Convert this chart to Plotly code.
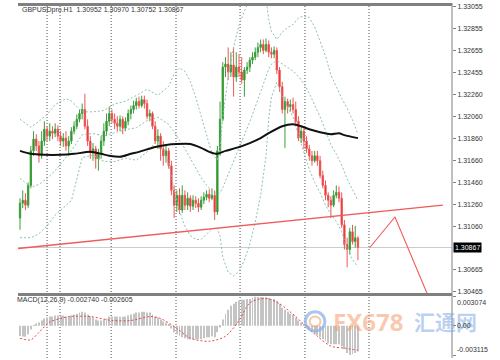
import plotly.graph_objects as go

# ---------------- data ----------------
bar_index = list(range(126))
open_ = [1.31136,1.31270,1.31297,1.31252,1.31432,1.31746,1.31853,1.31791,1.31701,1.31835,
         1.31943,1.31880,1.31925,1.31907,1.31943,1.31880,1.31835,1.31862,1.31791,1.31835,
         1.31925,1.31970,1.32033,1.32086,1.32122,1.31970,1.31835,1.31728,1.31764,1.31674,
         1.31728,1.31835,1.31925,1.32015,1.32086,1.32033,1.31997,1.31970,1.32033,1.31952,
         1.32015,1.32086,1.32122,1.32158,1.32194,1.32158,1.32212,1.32176,1.32060,1.32086,
         1.31970,1.31835,1.31880,1.31764,1.31701,1.31746,1.31611,1.31387,1.31252,1.31342,
         1.31208,1.31342,1.31252,1.31315,1.31243,1.31297,1.31270,1.31234,1.31297,1.31324,
         1.31351,1.31315,1.31342,1.31190,1.31746,1.32033,1.32508,1.32535,1.32463,1.32526,
         1.32418,1.32508,1.32463,1.32391,1.32481,1.32508,1.32571,1.32598,1.32643,1.32687,
         1.32714,1.32660,1.32714,1.32643,1.32625,1.32660,1.32481,1.32329,1.32122,1.32194,
         1.32149,1.32167,1.32122,1.32015,1.31862,1.31925,1.31835,1.31764,1.31701,1.31656,
         1.31701,1.31656,1.31521,1.31432,1.31342,1.31297,1.31252,1.31342,1.31369,1.31315,
         1.31073,1.30894,1.30849,1.31010,1.30921,1.30952]
high = [1.31315,1.31387,1.31360,1.31459,1.31791,1.31925,1.31898,1.31835,1.31925,1.32015,
        1.31970,1.31997,1.31970,1.31997,1.31979,1.31925,1.31907,1.31925,1.31880,1.31961,
        1.32015,1.32077,1.32122,1.32176,1.32266,1.32033,1.31880,1.31817,1.31791,1.31764,
        1.31880,1.31997,1.32086,1.32149,1.32122,1.32086,1.32060,1.32068,1.32060,1.32051,
        1.32122,1.32158,1.32203,1.32230,1.32239,1.32248,1.32248,1.32212,1.32122,1.32104,
        1.32015,1.31943,1.31907,1.31835,1.31791,1.31773,1.31656,1.31432,1.31387,1.31405,
        1.31432,1.31387,1.31369,1.31342,1.31342,1.31333,1.31315,1.31333,1.31369,1.31387,
        1.31396,1.31405,1.31387,1.31791,1.32194,1.32553,1.32598,1.32687,1.32643,1.32687,
        1.32643,1.32625,1.32598,1.32508,1.32553,1.32598,1.32643,1.32687,1.32732,1.32759,
        1.32759,1.32768,1.32750,1.32687,1.32696,1.32687,1.32508,1.32374,1.32239,1.32221,
        1.32212,1.32230,1.32194,1.32060,1.31970,1.31952,1.31880,1.31800,1.31746,1.31746,
        1.31746,1.31701,1.31566,1.31477,1.31369,1.31333,1.31387,1.31432,1.31423,1.31369,
        1.31118,1.30956,1.31046,1.31073,1.31064,1.30970]
low = [1.31028,1.31225,1.31208,1.31225,1.31405,1.31701,1.31746,1.31638,1.31674,1.31791,
       1.31835,1.31835,1.31853,1.31871,1.31835,1.31791,1.31782,1.31746,1.31701,1.31808,
       1.31898,1.31943,1.32006,1.32033,1.31943,1.31791,1.31674,1.31656,1.31584,1.31566,
       1.31674,1.31791,1.31880,1.31970,1.31997,1.31943,1.31925,1.31925,1.31898,1.31925,
       1.31979,1.32033,1.32086,1.32122,1.32131,1.32140,1.32131,1.32033,1.32015,1.31943,
       1.31808,1.31764,1.31656,1.31611,1.31638,1.31584,1.31342,1.31136,1.31190,1.31172,
       1.31181,1.31208,1.31208,1.31190,1.31208,1.31225,1.31190,1.31208,1.31261,1.31297,
       1.31279,1.31297,1.31118,1.31163,1.31701,1.32015,1.32418,1.32391,1.32418,1.32239,
       1.32374,1.32418,1.32356,1.32239,1.32445,1.32463,1.32535,1.32571,1.32598,1.32643,
       1.32625,1.32643,1.32598,1.32589,1.32589,1.32445,1.32284,1.32086,1.31773,1.32086,
       1.32104,1.32086,1.31970,1.31835,1.31817,1.31764,1.31728,1.31656,1.31611,1.31638,
       1.31611,1.31495,1.31405,1.31297,1.31234,1.31136,1.31234,1.31315,1.31279,1.31046,
       1.30849,1.30687,1.30804,1.30894,1.30867,1.30752]
close = [1.31270,1.31297,1.31252,1.31432,1.31746,1.31853,1.31791,1.31701,1.31835,1.31943,
         1.31880,1.31925,1.31907,1.31943,1.31880,1.31835,1.31862,1.31791,1.31835,1.31925,
         1.31970,1.32033,1.32086,1.32122,1.31970,1.31835,1.31728,1.31764,1.31674,1.31728,
         1.31835,1.31925,1.32015,1.32086,1.32033,1.31997,1.31970,1.32033,1.31952,1.32015,
         1.32086,1.32122,1.32158,1.32194,1.32158,1.32212,1.32176,1.32060,1.32086,1.31970,
         1.31835,1.31880,1.31764,1.31701,1.31746,1.31611,1.31387,1.31252,1.31342,1.31208,
         1.31342,1.31252,1.31315,1.31243,1.31297,1.31270,1.31234,1.31297,1.31324,1.31351,
         1.31315,1.31342,1.31190,1.31746,1.32033,1.32508,1.32535,1.32463,1.32526,1.32418,
         1.32508,1.32463,1.32391,1.32481,1.32508,1.32571,1.32598,1.32643,1.32687,1.32714,
         1.32660,1.32714,1.32643,1.32625,1.32660,1.32481,1.32329,1.32122,1.32194,1.32149,
         1.32167,1.32122,1.32015,1.31862,1.31925,1.31835,1.31764,1.31701,1.31656,1.31701,
         1.31656,1.31521,1.31432,1.31342,1.31297,1.31252,1.31342,1.31369,1.31315,1.31073,
         1.30894,1.30849,1.31010,1.30921,1.30956,1.30867]

bb_index = [0,4,7,10,13,17,19,23,27,31,35,39,43,47,51,55,57,59,61,63,65,67,69,71,73,74,75,
            77,79,81,83,85,87,89,91,92,93,95,97,99,101,103,105,107,109,111,113,115,117,119,121,123,125]
bb_upper = [1.32033,1.31961,1.32015,1.32077,1.32167,1.32221,1.32199,1.32101,1.32101,1.32113,1.32173,
            1.32197,1.32250,1.32306,1.32251,1.32332,1.32447,1.32500,1.32469,1.32378,1.32233,1.32063,
            1.31876,1.31721,1.31665,1.31765,1.32043,1.32418,1.32690,1.32888,1.33017,1.33122,1.33195,
            1.33224,1.33136,1.32941,1.32832,1.32760,1.32826,1.32868,1.32895,1.32956,1.32973,1.32959,
            1.32873,1.32747,1.32611,1.32435,1.32327,1.32224,1.32134,1.32027,1.31899]
bb_middle = [1.31495,1.31414,1.31441,1.31495,1.31566,1.31692,1.31746,1.31893,1.31904,1.31882,1.31911,
             1.31939,1.31956,1.32021,1.32052,1.31986,1.31918,1.31847,1.31766,1.31677,1.31587,1.31502,
             1.31433,1.31380,1.31353,1.31367,1.31412,1.31530,1.31650,1.31769,1.31885,1.32010,1.32146,
             1.32282,1.32417,1.32490,1.32534,1.32565,1.32537,1.32507,1.32473,1.32423,1.32357,1.32269,
             1.32166,1.32056,1.31931,1.31802,1.31715,1.31617,1.31490,1.31392,1.31296]
bb_lower = [1.30956,1.30956,1.30992,1.31064,1.31163,1.31252,1.31292,1.31685,1.31706,1.31651,1.31649,
            1.31680,1.31661,1.31736,1.31852,1.31640,1.31389,1.31194,1.31063,1.30975,1.30941,1.30940,
            1.30990,1.31039,1.31041,1.30969,1.30781,1.30643,1.30609,1.30650,1.30753,1.30898,1.31096,
            1.31340,1.31701,1.32040,1.32236,1.32369,1.32248,1.32147,1.32052,1.31890,1.31742,1.31578,
            1.31460,1.31365,1.31252,1.31169,1.31104,1.31011,1.30846,1.30757,1.30694]

ma_index = [0,4,9,15,20,26,30,33,37,41,44,50,54,58,63,67,70,73,76,80,85,89,92,97,101,104,107,111,115,118,120,125]
ma_values = [1.31746,1.31719,1.31710,1.31710,1.31719,1.31737,1.31719,1.31701,1.31692,1.31719,1.31737,
             1.31782,1.31800,1.31808,1.31808,1.31773,1.31737,1.31719,1.31746,1.31773,1.31817,1.31862,
             1.31907,1.31970,1.31988,1.31970,1.31943,1.31916,1.31898,1.31907,1.31889,1.31862]

trend_index = [-0.7, 156.4]
trend_values = [1.30858, 1.31252]
forecast_index = [129.4, 138.7, 151.0]
forecast_values = [1.30867, 1.31145, 1.30425]
separator_index = [10, 14.8, 33.7, 57.7, 81.4, 105.4, 129.1]

price_ticks = [1.33055,1.32855,1.32655,1.32455,1.32260,1.32060,1.31860,1.31660,1.31460,1.31260,1.31060,1.30665,1.30465]
price_labels = ["1.33055","1.32855","1.32655","1.32455","1.32260","1.32060","1.31860","1.31660","1.31460","1.31260","1.31060","1.30665","1.30465"]
last_price = 1.30867
header_text = "GBPUSDpro.H1  1.30952 1.30970 1.30752 1.30867"

macd_hist = [-0.00110,-0.00115,-0.00118,-0.00091,-0.00039,0.00003,0.00024,0.00035,0.00056,0.00077,
             0.00087,0.00098,0.00098,0.00108,0.00108,0.00108,0.00108,0.00098,0.00098,0.00108,
             0.00119,0.00129,0.00140,0.00150,0.00140,0.00119,0.00098,0.00087,0.00066,0.00056,
             0.00056,0.00066,0.00077,0.00098,0.00098,0.00098,0.00096,0.00097,0.00095,0.00098,
             0.00108,0.00119,0.00129,0.00140,0.00140,0.00150,0.00150,0.00140,0.00140,0.00119,
             0.00098,0.00087,0.00066,0.00045,0.00035,0.00014,-0.00028,-0.00070,-0.00091,-0.00112,
             -0.00123,-0.00133,-0.00144,-0.00144,-0.00144,-0.00144,-0.00144,-0.00144,-0.00133,-0.00123,
             -0.00123,-0.00112,-0.00123,-0.00070,-0.00018,0.00066,0.00129,0.00171,0.00213,0.00234,
             0.00255,0.00265,0.00276,0.00276,0.00286,0.00286,0.00297,0.003074,0.00305,0.00306,
             0.00304,0.00302,0.00297,0.00286,0.00285,0.00265,0.00234,0.00192,0.00171,0.00150,
             0.00129,0.00119,0.00087,0.00056,0.00035,0.00014,-0.00018,-0.00039,-0.00070,-0.00081,
             -0.00102,-0.00123,-0.00144,-0.00165,-0.00186,-0.00196,-0.00196,-0.00196,-0.00196,-0.00217,
             -0.00249,-0.00291,-0.003115,-0.00301,-0.00291,-0.002740]
signal_index = [0,4,7,11,15,18,26,34,41,48,52,58,63,70,76,81,85,89,92,96,102,105,110,115,120,125]
signal_values = [-0.00133,-0.00150,-0.00070,0.00040,0.00077,0.00098,0.00098,0.00056,0.00056,0.00098,
                 0.00077,-0.00028,-0.00133,-0.00165,-0.00112,0.00056,0.00244,0.00286,0.00286,0.00234,
                 0.00098,0.00014,-0.00112,-0.00217,-0.00238,-0.002605]
macd_ticks = [0.003074, 0.0, -0.003115]
macd_labels = ["0.003074", "0.00", "-0.003115"]
macd_text = "MACD(12,26,9) -0.002740 -0.002605"

# ---------------- figure ----------------
BB_COLOR = "#8cc2ab"
RED = "#f05a5a"
fig = go.Figure()

for ys in (bb_upper, bb_middle, bb_lower):
    fig.add_trace(go.Scatter(x=bb_index, y=ys, mode="lines", line=dict(color=BB_COLOR, width=1, dash="2px,2px"),
                             hoverinfo="skip", xaxis="x", yaxis="y", cliponaxis=True))

fig.add_trace(go.Scatter(x=trend_index, y=trend_values, mode="lines", line=dict(color=RED, width=1.3),
                         xaxis="x", yaxis="y"))
fig.add_trace(go.Scatter(x=forecast_index, y=forecast_values, mode="lines", line=dict(color=RED, width=1.1),
                         xaxis="x", yaxis="y"))

fig.add_trace(go.Candlestick(x=bar_index, open=open_, high=high, low=low, close=close,
                             increasing=dict(line=dict(color="#3c9f3c", width=1), fillcolor="#1d8a1d"),
                             decreasing=dict(line=dict(color="#f05555", width=1), fillcolor="#e31e1e"),
                             whiskerwidth=0, xaxis="x", yaxis="y"))

fig.add_trace(go.Scatter(x=ma_index, y=ma_values, mode="lines", line=dict(color="#111111", width=2, shape="spline", smoothing=0.6),
                         xaxis="x", yaxis="y"))

fig.add_trace(go.Bar(x=bar_index, y=macd_hist, width=0.35, marker=dict(color="#c4c4c4", line=dict(width=0)),
                     xaxis="x", yaxis="y2"))
fig.add_trace(go.Scatter(x=signal_index, y=signal_values, mode="lines",
                         line=dict(color="#e84848", width=1, dash="2px,2px", shape="spline", smoothing=0.8),
                         xaxis="x", yaxis="y2"))

shapes = []
for s in separator_index:
    shapes.append(dict(type="line", xref="x", yref="paper", x0=s, x1=s, y0=0, y1=0.992,
                       line=dict(color="#505050", width=1, dash="1px,2px"), layer="below"))
shapes.append(dict(type="line", xref="paper", yref="y", x0=0, x1=1, y0=last_price, y1=last_price,
                   line=dict(color="#cccccc", width=1), layer="below"))
# panel frames
shapes.append(dict(type="line", xref="paper", yref="paper", x0=0, x1=1, y0=0.9958, y1=0.9958,
                   line=dict(color="#808080", width=3)))
shapes.append(dict(type="line", xref="paper", yref="paper", x0=0, x1=1, y0=0.1792, y1=0.1792,
                   line=dict(color="#808080", width=3)))
shapes.append(dict(type="line", xref="paper", yref="paper", x0=1, x1=1, y0=0, y1=1,
                   line=dict(color="#808080", width=1)))
# watermark logo
shapes.append(dict(type="circle", xref="paper", yref="paper", x0=0.662, x1=0.707, y0=0.076, y1=0.130,
                   line=dict(color="rgba(140,180,230,0.75)", width=3), fillcolor="rgba(0,0,0,0)"))
shapes.append(dict(type="circle", xref="paper", yref="paper", x0=0.672, x1=0.697, y0=0.089, y1=0.117,
                   line=dict(color="rgba(245,160,110,0.6)", width=2), fillcolor="rgba(0,0,0,0)"))

annotations = [
    dict(text=header_text, xref="paper", yref="paper", x=0.004, y=0.981, xanchor="left", yanchor="middle",
         showarrow=False, font=dict(family="Liberation Sans", size=7, color="#333333")),
    dict(text=macd_text, xref="paper", yref="paper", x=-0.006, y=0.164, xanchor="left", yanchor="middle",
         showarrow=False, font=dict(family="Liberation Sans", size=7, color="#333333")),
    dict(text="1.30867", xref="paper", yref="y", x=1, y=last_price, xanchor="left", yanchor="middle",
         xshift=1, showarrow=False, bgcolor="#000000", borderpad=1,
         font=dict(family="Liberation Sans", size=7, color="#ffffff")),
    dict(text="<b>FX678</b>", xref="paper", yref="paper", x=0.806, y=0.103, xanchor="center", yanchor="middle",
         showarrow=False, font=dict(family="Noto Sans", size=24, color="rgba(245,155,105,0.55)")),
    dict(text="<b>汇通网</b>", xref="paper", yref="paper", x=0.985, y=0.103, xanchor="center", yanchor="middle",
         showarrow=False, font=dict(family="Noto Sans CJK SC", size=21, color="rgba(130,170,225,0.55)")),
]
for v, t in zip(macd_ticks, macd_labels):
    annotations.append(dict(text=t, xref="paper", yref="y2", x=1, y=v, xanchor="left",
                            yanchor="top" if v > 0 else ("bottom" if v < 0 else "middle"),
                            xshift=3, showarrow=False,
                            font=dict(family="Liberation Sans", size=7, color="#333333")))

fig.update_layout(
    width=500, height=360,
    margin=dict(l=18, r=48, t=0, b=0),
    paper_bgcolor="white", plot_bgcolor="white",
    showlegend=False,
    xaxis=dict(range=[-0.75, 159.8], visible=False, rangeslider=dict(visible=False), fixedrange=True),
    yaxis=dict(domain=[0.18333, 0.99167], range=[1.30454, 1.33064], side="right",
               showgrid=False, zeroline=False, showline=False, ticks="outside", ticklen=3,
               tickcolor="#808080", tickvals=price_ticks, ticktext=price_labels,
               tickfont=dict(family="Liberation Sans", size=7, color="#333333")),
    yaxis2=dict(domain=[0, 0.175], range=[-0.003430, 0.003179], side="right", anchor="x",
                showgrid=False, zeroline=False, showline=False, ticks="outside", ticklen=3,
                tickcolor="#808080", tickvals=macd_ticks, ticktext=["", "", ""]),
    shapes=shapes, annotations=annotations,
)

fig.write_html("out.html")
